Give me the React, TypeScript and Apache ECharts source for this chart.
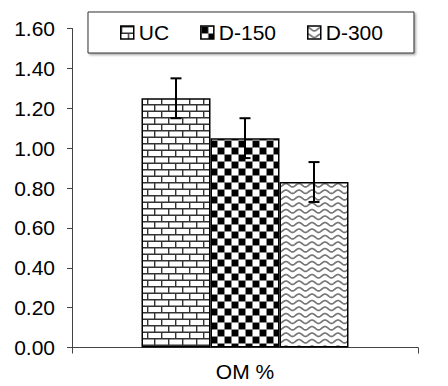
import React, { useEffect, useRef } from 'react';
import * as echarts from 'echarts';

const categories = ['OM %'];
const seriesNames = ['UC', 'D-150', 'D-300'];
const means = [1.25, 1.05, 0.83];
const errors = [0.1, 0.1, 0.1];
const patternKinds = ['brick', 'checker', 'wave'];

const FONT = "'Liberation Sans', Arial, sans-serif";
const BAR_W = 69;

function makeTile(kind: string) {
  const c = document.createElement('canvas');
  const ctx = c.getContext('2d')!;
  if (kind === 'brick') {
    c.width = 14; c.height = 13;
    ctx.fillStyle = '#fff'; ctx.fillRect(0, 0, 14, 13);
    ctx.strokeStyle = '#333'; ctx.lineWidth = 1.4;
    ctx.beginPath();
    ctx.moveTo(0, 0.7); ctx.lineTo(14, 0.7);
    ctx.moveTo(0, 7.2); ctx.lineTo(14, 7.2);
    ctx.moveTo(0.7, 0); ctx.lineTo(0.7, 7.2);
    ctx.moveTo(7.7, 7.2); ctx.lineTo(7.7, 13);
    ctx.stroke();
  } else if (kind === 'checker') {
    c.width = 14; c.height = 14;
    ctx.fillStyle = '#fff'; ctx.fillRect(0, 0, 14, 14);
    ctx.fillStyle = '#000';
    ctx.fillRect(0, 0, 7, 7);
    ctx.fillRect(7, 7, 7, 7);
    ctx.strokeStyle = '#888'; ctx.lineWidth = 1;
    ctx.beginPath();
    ctx.moveTo(0, 0.5); ctx.lineTo(14, 0.5);
    ctx.moveTo(0, 7.5); ctx.lineTo(14, 7.5);
    ctx.moveTo(0.5, 0); ctx.lineTo(0.5, 14);
    ctx.moveTo(7.5, 0); ctx.lineTo(7.5, 14);
    ctx.stroke();
  } else {
    c.width = 13; c.height = 13;
    ctx.fillStyle = '#fff'; ctx.fillRect(0, 0, 13, 13);
    ctx.strokeStyle = '#777'; ctx.lineWidth = 1.7;
    [3.2, 9.7].forEach((y0) => {
      ctx.beginPath();
      for (let x = -1; x <= 14; x += 0.5) {
        const y = y0 - 1.7 * Math.cos((2 * Math.PI * x) / 13);
        if (x === -1) ctx.moveTo(x, y); else ctx.lineTo(x, y);
      }
      ctx.stroke();
    });
  }
  return c;
}

export default function App() {
  const ref = useRef<HTMLDivElement>(null);
  useEffect(() => {
    document.body.style.margin = '0';
    const chart = echarts.init(ref.current!, null, { renderer: 'svg' });
    const fills = patternKinds.map((k) => {
      const img = makeTile(k);
      return { image: img, repeat: 'repeat', imageWidth: img.width, imageHeight: img.height };
    });
    const barSeries = seriesNames.map((name, i) => ({
      name,
      type: 'bar',
      barWidth: BAR_W,
      barGap: '0%',
      data: [means[i]],
      itemStyle: { color: fills[i], borderColor: '#000', borderWidth: 1.5 },
    }));
    const errData = seriesNames.map((_, i) => [0, means[i] - errors[i], means[i] + errors[i], i]);
    const n = seriesNames.length;
    chart.setOption({
      animation: false,
      textStyle: { fontFamily: FONT },
      grid: { left: 72, right: 30, top: 28.5, bottom: 38.5 },
      legend: {
        data: seriesNames,
        icon: 'rect',
        left: 88,
        top: 12,
        padding: [10, 31, 10, 32],
        itemGap: 31,
        itemWidth: 13,
        itemHeight: 13,
        borderColor: '#333',
        borderWidth: 1,
        backgroundColor: '#fff',
        shadowColor: 'rgba(0,0,0,0.35)',
        shadowBlur: 2,
        shadowOffsetX: 1.5,
        shadowOffsetY: 1.5,
        textStyle: { fontSize: 21, color: '#000', fontFamily: FONT },
        itemStyle: { borderColor: '#000', borderWidth: 1.5 },
      },
      xAxis: {
        type: 'category',
        data: categories,
        axisLine: { lineStyle: { color: '#444', width: 1 } },
        axisTick: { show: true, length: 6, lineStyle: { color: '#444' } },
        axisLabel: { fontSize: 21, color: '#000', margin: 13, fontFamily: FONT },
      },
      yAxis: {
        type: 'value',
        min: 0,
        max: 1.6,
        interval: 0.2,
        splitLine: { show: false },
        axisLine: { show: true, lineStyle: { color: '#444', width: 1 } },
        axisTick: { show: true, length: 5, lineStyle: { color: '#444' } },
        axisLabel: {
          fontSize: 21,
          color: '#000',
          margin: 17,
          fontFamily: FONT,
          formatter: (v: number) => v.toFixed(2),
        },
      },
      series: [
        ...barSeries,
        {
          type: 'custom',
          name: 'err',
          z: 10,
          data: errData,
          renderItem: (params: any, api: any) => {
            const lo = api.coord([api.value(0), api.value(1)]);
            const hi = api.coord([api.value(0), api.value(2)]);
            const x = lo[0] + (api.value(3) - (n - 1) / 2) * BAR_W;
            const cap = 5.5;
            const st = { stroke: '#000', lineWidth: 2 };
            return {
              type: 'group',
              children: [
                { type: 'line', shape: { x1: x, y1: lo[1], x2: x, y2: hi[1] }, style: st },
                { type: 'line', shape: { x1: x - cap, y1: hi[1], x2: x + cap, y2: hi[1] }, style: st },
                { type: 'line', shape: { x1: x - cap, y1: lo[1], x2: x + cap, y2: lo[1] }, style: st },
              ],
            };
          },
        },
      ],
    } as any);
    return () => chart.dispose();
  }, []);
  return <div ref={ref} style={{ width: 448, height: 386 }} />;
}
